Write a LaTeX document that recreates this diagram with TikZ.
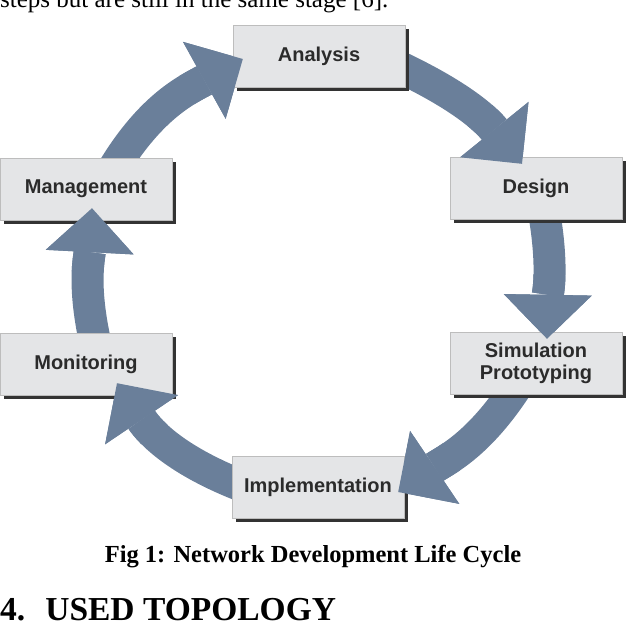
\documentclass[tikz,border=0pt]{standalone}
\usepackage{fontspec}
\setmainfont{Liberation Serif}
\newfontfamily\labelfont{Liberation Sans}
\usetikzlibrary{arrows.meta,shadows}
\definecolor{arrowblue}{HTML}{6A7F9A}
\definecolor{boxgray}{HTML}{E4E5E7}
\definecolor{bordergray}{HTML}{BDBDBD}
\definecolor{shadowgray}{HTML}{333333}
\definecolor{textgray}{HTML}{2B2B2B}
\pgfdeclarelayer{background}
\pgfsetlayers{background,main}
\tikzstyle{stage} = [rectangle, draw=bordergray, fill=boxgray, minimum width=172pt,
minimum height=62pt, align=center, text=textgray, inner sep=0pt,
font=\labelfont\bfseries\fontsize{20}{22}\selectfont,
drop shadow={shadow xshift=4pt, shadow yshift=-4pt, fill=shadowgray, opacity=1}]
\tikzstyle{cyclearrow} = [draw=arrowblue, line width=32pt, shorten <=-14pt,
-{Triangle[length=44pt, width=88pt, line width=0pt]}]

\begin{document}
\begin{tikzpicture}[x=1pt, y=-1pt, node distance=175pt]
	\useasboundingbox (0,0) rectangle (626,638);
	
	\node [stage] (analysis) at (319,56) {Analysis};
	\node [stage] (design) at (536,188) {Design};
	\node [stage, below of=design] (simulation) {Simulation\\Prototyping};
	\node [stage] (implementation) at (318,487) {Implementation};
	\node [stage] (management) at (86,189) {Management};
	\node [stage, below of=management] (monitoring) {Monitoring};
	
	
	\coordinate (managementout) at ([xshift=34pt]management.north);
	\coordinate (analysisin) at ([xshift=10pt, yshift=-3pt]analysis.west);
	\coordinate (analysisout) at ([xshift=3pt, yshift=-15pt]analysis.east);
	\coordinate (designin) at ([xshift=-14pt, yshift=-7pt]design.north);
	\coordinate (designout) at ([xshift=10pt, yshift=-4pt]design.south);
	\coordinate (simulationin) at ([xshift=11pt, yshift=-7pt]simulation.north);
	\coordinate (simulationout) at ([xshift=-27pt, yshift=-4pt]simulation.south);
	\coordinate (implementationin) at ([xshift=-6pt, yshift=-5pt]implementation.east);
	\coordinate (implementationout) at ([yshift=5pt]implementation.west);
	\coordinate (monitoringin) at ([xshift=31pt, yshift=12pt]monitoring.south);
	\coordinate (monitoringout) at ([xshift=7pt]monitoring.north);
	\coordinate (managementin) at ([xshift=6pt, yshift=12pt]management.south);
	
	
	\begin{pgfonlayer}{background}
	\foreach \from/\out/\in/\to in {managementout/59/209/analysisin, analysisout/-25/129/designin,
		designout/-80/89/simulationin, simulationout/-123/34/implementationin,
		implementationout/159/-56/monitoringin, monitoringout/103/-93/managementin}
		\path [cyclearrow] (\from) to[out=\out, in=\in] (\to);
	\end{pgfonlayer}
	
	\foreach \from/\out/\in/\to in {managementout/59/209/analysisin, analysisout/-25/129/designin,
		designout/-80/89/simulationin, simulationout/-123/34/implementationin,
		implementationout/159/-56/monitoringin, monitoringout/103/-93/managementin}
	{
		\begin{scope}
		\clip (\to) circle (66pt);
		\path [cyclearrow] (\from) to[out=\out, in=\in] (\to);
		\end{scope}
	}
	
	
	\node [anchor=base west, inner sep=0pt, font=\fontsize{25}{28}\selectfont] (prevline) at (0,7) {steps but are still in the same stage [6].};
	\node [anchor=base, inner sep=0pt, font=\bfseries\fontsize{24.5}{28}\selectfont] (caption) at (313,562) {Fig 1: Network Development Life Cycle};
	\node [anchor=base west, inner sep=0pt, font=\bfseries\fontsize{33.5}{38}\selectfont] (heading) at (0,620) {4.\hspace{20pt}USED TOPOLOGY};
\end{tikzpicture}
\end{document}
